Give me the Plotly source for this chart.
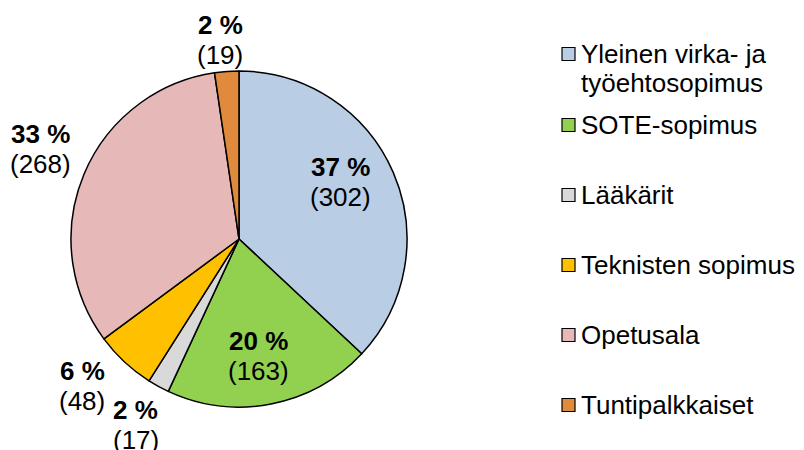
import math
import plotly.graph_objects as go

# ---- data ----
categories = ["Yleinen virka- ja työehtosopimus", "SOTE-sopimus", "Lääkärit",
              "Teknisten sopimus", "Opetusala", "Tuntipalkkaiset"]
legend_lines = [["Yleinen virka- ja", "työehtosopimus"], ["SOTE-sopimus"], ["Lääkärit"],
                ["Teknisten sopimus"], ["Opetusala"], ["Tuntipalkkaiset"]]
counts = [302, 163, 17, 48, 268, 19]
colors = ["#B9CDE5", "#92D050", "#D9D9D9", "#FFC000", "#E6B9B8", "#E08A3E"]

# ---- layout (pixels in the screenshot) ----
W, H = 804, 450
OFF = 8  # page body margin
CX, CY, R = 239, 239, 168
label_radius = [0.70, 0.70, 1.26, 1.30, 1.30, 1.19]
label_nudge = [(-6, -10), (-3, 2), (-2, 0), (-8, -13), (3, -6), (-4, 0)]
FONT = "Liberation Sans, Arial, sans-serif"
FS = 26
LINE = 30

def px(x):
    return (x - OFF) / W

def py(y):
    return 1 - (y - OFF) / H

fig = go.Figure(go.Pie(
    labels=categories,
    values=counts,
    sort=False,
    direction="clockwise",
    rotation=0,
    marker=dict(colors=colors, line=dict(color="black", width=1.5)),
    textinfo="none",
    hoverinfo="label+value+percent",
    domain=dict(x=[px(CX - R), px(CX + R)], y=[py(CY + R), py(CY - R)]),
    showlegend=False,
))

def text_ann(x, y, text, anchor="center"):
    return dict(x=px(x), y=py(y), xref="paper", yref="paper", text=text,
                showarrow=False, xanchor=anchor, yanchor="middle", align=anchor,
                font=dict(family=FONT, size=FS, color="black"))

total = sum(counts)
annotations = []
cum = 0
for i, v in enumerate(counts):
    mid = (cum + v / 2) / total * 2 * math.pi
    cum += v
    r = R * label_radius[i]
    x = CX + r * math.sin(mid) + label_nudge[i][0]
    y = CY - r * math.cos(mid) + label_nudge[i][1]
    pct = round(v / total * 100)
    annotations.append(text_ann(x, y - LINE / 2, f"<b>{pct} %</b>"))
    annotations.append(text_ann(x, y + LINE / 2, f"({v})"))

# manual legend
shapes = []
leg_y0, leg_step = 55, 70
for i, lines in enumerate(legend_lines):
    cy = leg_y0 + i * leg_step - (1 if i == 0 else 0)
    shapes.append(dict(type="rect", xref="paper", yref="paper",
                       x0=px(562), x1=px(575), y0=py(cy + 6.5), y1=py(cy - 6.5),
                       fillcolor=colors[i], line=dict(color="black", width=1.2)))
    for j, t in enumerate(lines):
        annotations.append(text_ann(579, cy + j * 29, t, anchor="left"))

fig.update_layout(
    width=W, height=H,
    margin=dict(l=0, r=0, t=0, b=0),
    paper_bgcolor="white", plot_bgcolor="white",
    annotations=annotations, shapes=shapes,
    font=dict(family=FONT),
)

fig.write_html("out.html")
